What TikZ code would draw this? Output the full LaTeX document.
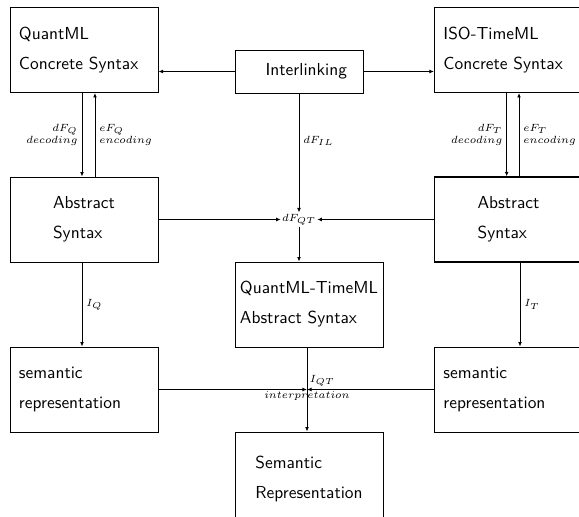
\documentclass[tikz,border=0pt]{standalone}
\usepackage{tikz}
\usetikzlibrary{arrows.meta}
\tikzset{
  blk/.style={rectangle,draw=black,line width=0.5pt,minimum width=85.1pt,minimum height=48.9pt,inner sep=0pt,align=left,font=\sffamily\fontsize{10}{17.25}\selectfont},
  blkl/.style={blk,text width=74.75pt,inner xsep=5.2pt},
  blkr/.style={blk,anchor=west,minimum width=0pt,text width=89.6pt,inner xsep=5.2pt},
  ilbox/.style={blk,minimum width=0pt,minimum height=24.7pt,text width=55.2pt,inner xsep=9.2pt,align=right},
  lbl/.style={font=\fontsize{6.4}{7}\selectfont,inner sep=2.3pt},
  flow/.style={-{Latex[length=2.6pt,width=2.2pt]},line width=0.5pt,black},
}
\begin{document}
\begin{tikzpicture}[x=0.575pt,y=-0.575pt]
  \useasboundingbox (0,0) rectangle (579,517);
  % boxes
  \node[blkl] (QCS) at (84,50) {QuantML\\Concrete Syntax};
  \node[ilbox] (IL) at (299,71.5) {Interlinking};
  \node[blkr] (TCS) at (434,50) {ISO-TimeML\\Concrete Syntax};
  \node[blk] (QAS) at (84,219.5) {Abstract\\Syntax};
  \node[blkr,line width=0.75pt,text width=50.6pt,inner xsep=24.7pt] (TAS) at (434,219.5) {Abstract\\Syntax};
  \node[blk] (QTAS) at (309,304.5) {QuantML-TimeML\\Abstract Syntax};
  \node[blkl] (QSR) at (84,389.5) {semantic\\representation};
  \node[blkr] (TSR) at (434,389.5) {semantic\\representation};
  \node[blk,minimum height=54.05pt] (SR) at (309,479) {Semantic\\Representation};
  \node[lbl,inner sep=0.6pt] (dFQT) at (299,219.5) {$dF_{QT}$};
  \coordinate (IQT) at (307,389.5);
  % interlinking
  \draw[flow] (IL.west) -- (IL.west -| QCS.east);
  \draw[flow] (IL.east) -- (IL.east -| TCS.west);
  \draw[flow] (IL.south) -- node[lbl,right,pos=0.4]{$dF_{IL}$} (dFQT.north);
  % decoding / encoding
  \draw[flow] ([xshift=-1.15pt]QCS.south) -- node[lbl,left,align=right]{$dF_Q$\\$decoding$} ([xshift=-1.15pt]QAS.north);
  \draw[flow] ([xshift=6.3pt]QAS.north) -- node[lbl,right,align=left]{$eF_Q$\\$encoding$} ([xshift=6.3pt]QCS.south);
  \draw[flow] ([xshift=41.8pt]TCS.south west) -- node[lbl,left,align=right]{$dF_T$\\$decoding$} ([xshift=41.8pt]TAS.north west);
  \draw[flow] ([xshift=48.9pt]TAS.north west) -- node[lbl,right,align=left]{$eF_T$\\$encoding$} ([xshift=48.9pt]TCS.south west);
  % merging
  \draw[flow] (QAS.east) -- (dFQT.west);
  \draw[flow] (TAS.west) -- (dFQT.east);
  \draw[flow] (dFQT.south) -- (dFQT.south |- QTAS.north);
  % interpretation
  \draw[flow] ([xshift=-1.15pt]QAS.south) -- node[lbl,right]{$I_Q$} ([xshift=-1.15pt]QSR.north);
  \draw[flow] ([xshift=49.45pt]TAS.south west) -- node[lbl,right]{$I_T$} ([xshift=49.45pt]TSR.north west);
  \draw[flow] ([xshift=-1.15pt]QTAS.south) -- ([xshift=-1.15pt]SR.north);
  \draw[flow] (QSR.east) -- (IQT);
  \draw[flow] (TSR.west) -- (IQT);
  \node[lbl,above right,inner sep=1.5pt] (IQTa) at (IQT) {$I_{QT}$};
  \node[lbl,below,inner sep=1.2pt] (IQTb) at (IQT) {$interpretation$};
\end{tikzpicture}
\end{document}
